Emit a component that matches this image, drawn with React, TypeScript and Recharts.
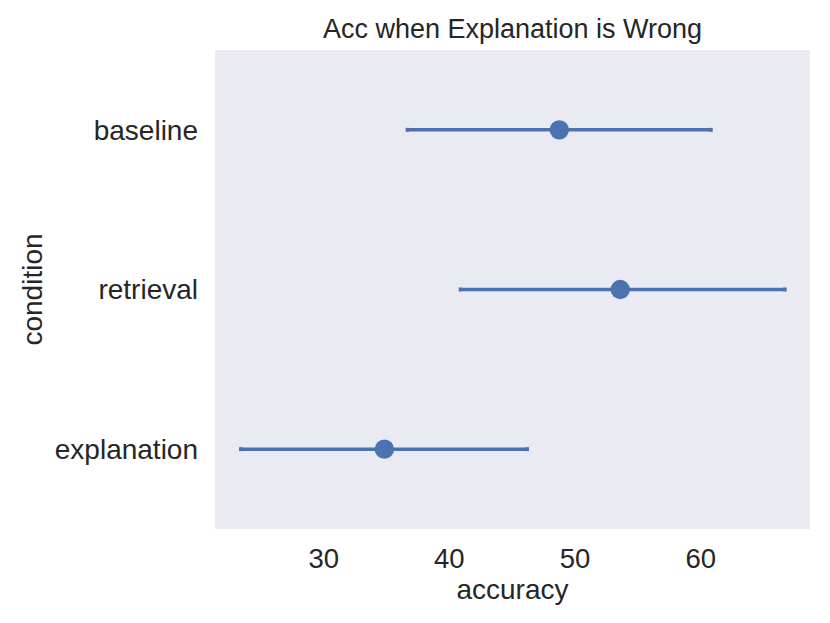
import { CartesianGrid, ErrorBar, Scatter, ScatterChart, XAxis, YAxis } from 'recharts'

const conditions = ['baseline', 'retrieval', 'explanation']
const means = [48.75, 53.6, 34.83]
const lows = [36.66, 40.88, 23.4]
const highs = [60.82, 66.7, 46.2]

const BLUE = '#4C72B0'
const FONT = '"Liberation Sans", Arial, sans-serif'

const data = conditions.map((condition, i) => ({
  condition,
  accuracy: means[i],
  err: [means[i] - lows[i], highs[i] - means[i]],
}))

export default function App() {
  return (
    <div style={{ position: 'absolute', left: 0, top: 0, width: 830, height: 623, background: '#fff', fontFamily: FONT }}>
      <ScatterChart width={830} height={623} margin={{ top: 50, right: 20, bottom: 0, left: 0 }}>
        <rect x={215} y={50} width={595} height={479} fill="#EAEAF2" />
        <text x={512.5} y={38} textAnchor="middle" fontSize={27} fill="#262626" fontFamily={FONT}>
          Acc when Explanation is Wrong
        </text>
        <CartesianGrid horizontal={false} stroke="#ffffff" strokeWidth={1.5} />
        <XAxis
          type="number"
          dataKey="accuracy"
          domain={[21.35, 68.7]}
          ticks={[30, 40, 50, 60]}
          allowDataOverflow
          height={94}
          axisLine={false}
          tickLine={false}
          tickSize={10}
          tickMargin={9}
          tick={{ fontSize: 27.5, fill: '#262626', fontFamily: FONT }}
          label={{
            content: ({ viewBox }: any) => (
              <text x={viewBox.x + viewBox.width / 2} y={599} textAnchor="middle" fontSize={28} fill="#262626" fontFamily={FONT}>
                accuracy
              </text>
            ),
          }}
        />
        <YAxis
          type="category"
          dataKey="condition"
          reversed
          allowDuplicatedCategory={false}
          width={215}
          axisLine={false}
          tickLine={false}
          tickSize={10}
          tickMargin={7}
          tick={{ fontSize: 28, fill: '#262626', fontFamily: FONT }}
          label={{
            content: ({ viewBox }: any) => {
              const cx = 42
              const cy = viewBox.y + viewBox.height / 2
              return (
                <text x={cx} y={cy} transform={`rotate(-90 ${cx} ${cy})`} textAnchor="middle" fontSize={28} fill="#262626" fontFamily={FONT}>
                  condition
                </text>
              )
            },
          }}
        />
        <Scatter data={data} fill={BLUE} isAnimationActive={false} shape={(p: any) => <circle cx={p.cx} cy={p.cy} r={9.7} fill={BLUE} />}>
          <ErrorBar dataKey="err" direction="x" width={2} stroke={BLUE} strokeWidth={3.5} isAnimationActive={false} />
        </Scatter>
      </ScatterChart>
    </div>
  )
}
